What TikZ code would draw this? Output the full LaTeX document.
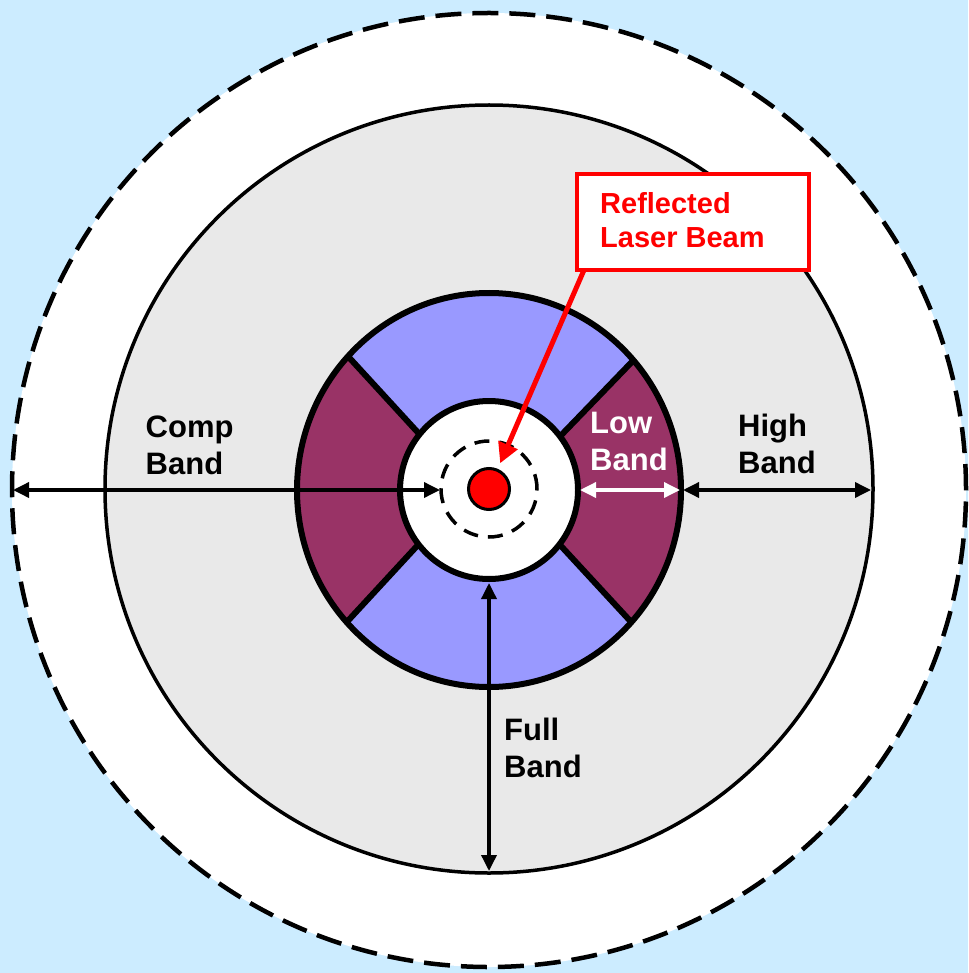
\documentclass[tikz,border=0pt]{standalone}
\usepackage{fontspec}
\setmainfont{Liberation Sans}
\usetikzlibrary{arrows.meta}
\definecolor{bgblue}{HTML}{CCECFF}
\definecolor{ringgray}{HTML}{E9E9E9}
\definecolor{segblue}{HTML}{9999FF}
\definecolor{segpurple}{HTML}{993366}
\begin{document}
\begin{tikzpicture}[x=1pt,y=-1pt,
  lbl/.style={font=\bfseries\fontsize{31}{37}\selectfont, align=left, anchor=north west, inner sep=0pt},
  redlbl/.style={font=\bfseries\fontsize{29}{34}\selectfont, align=left, anchor=north west, inner sep=0pt, text=red},
  dimtip/.tip={Triangle[length=16pt,width=15pt]},
  dimarrow/.style={line width=3.5pt, dimtip-dimtip},
  segline/.style={line width=6pt},
]
\fill[bgblue] (0,0) rectangle (968,973);
\useasboundingbox (0,0) rectangle (968,973);
% outer dashed circle
\draw[line width=4.5pt, dash pattern=on 26pt off 11pt, fill=white] (489,490) circle[radius=477pt];
% gray disc
\draw[line width=3.5pt, fill=ringgray] (489,489) circle[radius=384pt];
% segmented ring
\begin{scope}
  \clip (489,490) ellipse[x radius=192pt, y radius=197pt];
  \fill[segpurple] (280,280) rectangle (700,700);
  \fill[segblue] (489,510) -- (189,183) -- (189,0) -- (789,0) -- (789,199) -- cycle;
  \fill[segblue] (489,468) -- (189,793) -- (189,973) -- (789,973) -- (789,793) -- cycle;
  \draw[segline] (189,183) -- (489,510) -- (789,199);
  \draw[segline] (189,793) -- (489,468) -- (789,793);
\end{scope}
\draw[segline] (489,490) ellipse[x radius=192pt, y radius=197pt];
% inner white circle
\draw[line width=6pt, fill=white] (489,490) circle[radius=89pt];
% dashed small circle
\draw[line width=3.5pt, dash pattern=on 15pt off 10pt] (489,489) circle[radius=48pt];
% red dot
\node[circle, fill=red, draw=black, line width=3pt, minimum size=41pt, inner sep=0pt] (dot) at (489,489) {};

% dimension coordinates
\coordinate (compR) at (440,490);
\coordinate (compL) at (13,490);
\coordinate (lowL) at (580,490);
\coordinate (lowR) at (680,490);
\coordinate (highL) at (683,490);
\coordinate (highR) at (871,490);
\coordinate (fullT) at (489,583);
\coordinate (fullB) at (489,871);

\draw[dimarrow] (compL) -- (compR);
\draw[dimarrow, white] (lowL) -- (lowR);
\draw[dimarrow] (highL) -- (highR);
\draw[dimarrow] (fullT) -- (fullB);

% labels
\node[lbl] (comp) at (145.5,416) {Comp\\Band};
\node[lbl] (high) at (738,414) {High\\Band};
\node[lbl, text=white] (low) at (590,412) {Low\\Band};
\node[lbl] (full) at (504,718) {Full\\Band};

% reflected laser beam callout
\node[draw=red, line width=3.5pt, fill=white, minimum width=232pt, minimum height=96pt, outer sep=0pt, inner sep=0pt, anchor=north west] (box) at (577,174) {};
\node[redlbl] (reflbl) at (600,192) {Reflected\\Laser Beam};
\draw[red, line width=5pt, -{Triangle[length=20pt,width=20pt]}, shorten >=6pt] ([xshift=7pt]box.south west) -- (dot);
\end{tikzpicture}
\end{document}
